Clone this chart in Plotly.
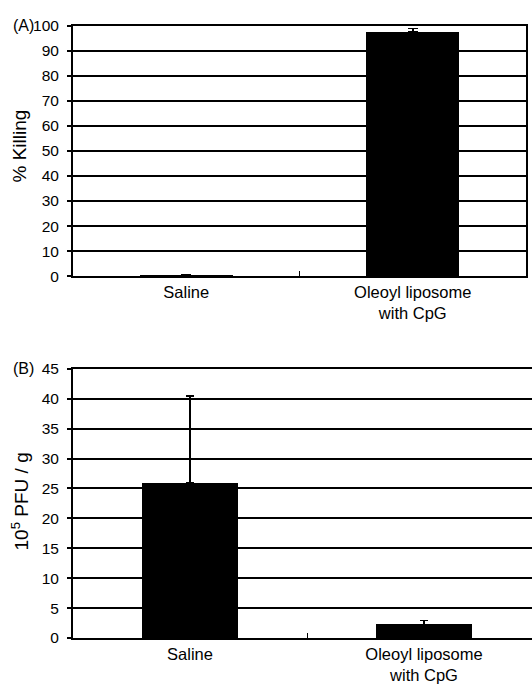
import plotly.graph_objects as go

categories = ["Saline", "Oleoyl liposome<br>with CpG"]
killing_values = [0.5, 97.5]
killing_errors = [0.0, 1.3]
pfu_values = [26.0, 2.3]
pfu_errors = [14.5, 0.6]
killing_ticks = list(range(0, 101, 10))
pfu_ticks = list(range(0, 46, 5))

W, H = 532, 687
FONT = "Liberation Sans, Arial, Helvetica, sans-serif"

fig = go.Figure()
fig.add_trace(go.Bar(
    x=categories, y=killing_values, width=0.41,
    marker=dict(color="black", line=dict(width=0)),
    error_y=dict(type="data", array=killing_errors, arrayminus=[0, 0],
                 color="black", thickness=1.5, width=5),
    xaxis="x", yaxis="y", showlegend=False))
fig.add_trace(go.Bar(
    x=categories, y=pfu_values, width=0.41,
    marker=dict(color="black", line=dict(width=0)),
    error_y=dict(type="data", array=pfu_errors, arrayminus=[0, 0],
                 color="black", thickness=1.5, width=4),
    xaxis="x2", yaxis="y2", showlegend=False))

x_left = 73 / W
common_x = dict(type="category", showline=True, linecolor="black", linewidth=2,
                mirror=True, tickson="boundaries", ticks="inside", ticklen=5,
                tickcolor="black", tickwidth=1, showgrid=False,
                tickfont=dict(family=FONT, size=16.5, color="black"))
common_y = dict(showline=True, linecolor="black", linewidth=2,
                ticks="outside", ticklen=4, tickcolor="black", tickwidth=2,
                showgrid=True, gridcolor="black", gridwidth=1.6,
                zeroline=False, ticklabelstandoff=5,
                tickfont=dict(family=FONT, size=15.5, color="black"))

fig.update_layout(
    width=W, height=H,
    margin=dict(l=0, r=0, t=0, b=0),
    paper_bgcolor="white", plot_bgcolor="white",
    bargap=0,
    xaxis=dict(domain=[x_left, 526 / W], range=[-0.5, 1.5], anchor="y", **common_x),
    yaxis=dict(domain=[1 - 274 / H, 1 - 17 / H], range=[0, 100],
               tickvals=killing_ticks, mirror=True, anchor="x", **common_y),
    xaxis2=dict(domain=[x_left, 1.0], range=[-0.5, 1.4615], anchor="y2", **common_x),
    yaxis2=dict(domain=[1 - 645 / H, 1 - 369 / H], range=[0, 45],
                tickvals=pfu_ticks, mirror=False, anchor="x2", **common_y),
    annotations=[
        dict(text="% Killing", x=20 / W, y=1 - 141 / H, xref="paper", yref="paper",
             textangle=-90, showarrow=False, xanchor="center", yanchor="middle",
             font=dict(family=FONT, size=19, color="black")),
        dict(text="10<sup>5</sup> PFU / g", x=20 / W, y=1 - 505 / H, xref="paper", yref="paper",
             textangle=-90, showarrow=False, xanchor="center", yanchor="middle",
             font=dict(family=FONT, size=19, color="black")),
        dict(text="(A)", x=11 / W, y=1 - 17 / H, xref="paper", yref="paper",
             showarrow=False, xanchor="left", yanchor="middle",
             font=dict(family=FONT, size=16, color="black")),
        dict(text="(B)", x=11 / W, y=1 - 369 / H, xref="paper", yref="paper",
             showarrow=False, xanchor="left", yanchor="middle",
             font=dict(family=FONT, size=16, color="black")),
    ],
)

fig.write_html("out.html")
